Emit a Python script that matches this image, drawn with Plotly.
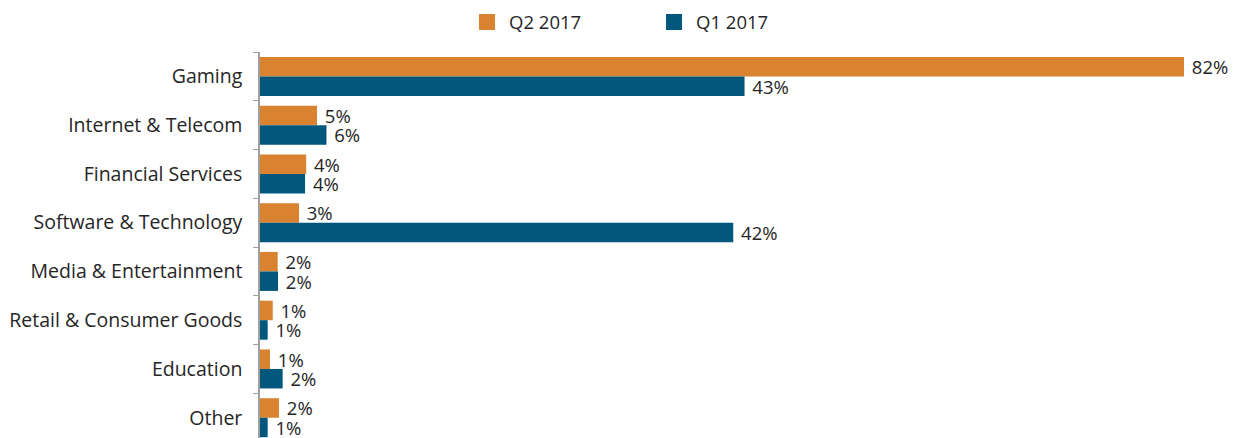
import plotly.graph_objects as go

categories = ["Gaming", "Internet & Telecom", "Financial Services", "Software & Technology",
              "Media & Entertainment", "Retail & Consumer Goods", "Education", "Other"]
q2_2017 = [82, 5.06, 4.1, 3.46, 1.57, 1.13, 0.89, 1.69]
q1_2017 = [43, 5.9, 4.0, 42, 1.6, 0.68, 2.01, 0.68]

orange = "#D9822F"
blue = "#02587C"
font = "'Open Sans', Lato, sans-serif"
txt = "#262626"

fig = go.Figure()
for name, vals, col in [("Q2 2017", q2_2017, orange), ("Q1 2017", q1_2017, blue)]:
    fig.add_trace(go.Bar(
        y=categories, x=vals, name=name, orientation="h",
        marker=dict(color=col, line=dict(width=0)),
        texttemplate=" %{x:.0f}%", textposition="outside", cliponaxis=False,
        constraintext="none",
        textfont=dict(size=18.5, color=txt, family=font),
        showlegend=False,
    ))
    # legend swatch
    fig.add_trace(go.Scatter(
        x=[None], y=[None], mode="markers", name=name,
        marker=dict(symbol="square", size=20, color=col),
    ))

# page body adds an 8px offset, margins compensate for it
fig.update_layout(
    width=1237, height=438,
    margin=dict(l=252, r=30, t=44, b=0, autoexpand=False),
    paper_bgcolor="white", plot_bgcolor="white",
    barmode="group", bargap=0.2, bargroupgap=0,
    font=dict(family=font, size=17, color=txt),
    legend=dict(orientation="h", x=0.2147, xanchor="left", y=1.0749, yanchor="middle",
                font=dict(size=18.5, color=txt), itemwidth=34,
                entrywidth=138, entrywidthmode="pixels", traceorder="normal"),
    xaxis=dict(range=[0, 84.75], visible=False, fixedrange=True),
    yaxis=dict(range=[7.58, -0.5], showline=True, linecolor="#a0a0a0", linewidth=1.5,
               ticks="outside", tickson="boundaries", ticklen=5, tickcolor="#a0a0a0",
               showgrid=False, zeroline=False, ticklabelstandoff=12, automargin=False,
               tickfont=dict(size=19.5, color=txt)),
)

fig.write_html("out.html")
